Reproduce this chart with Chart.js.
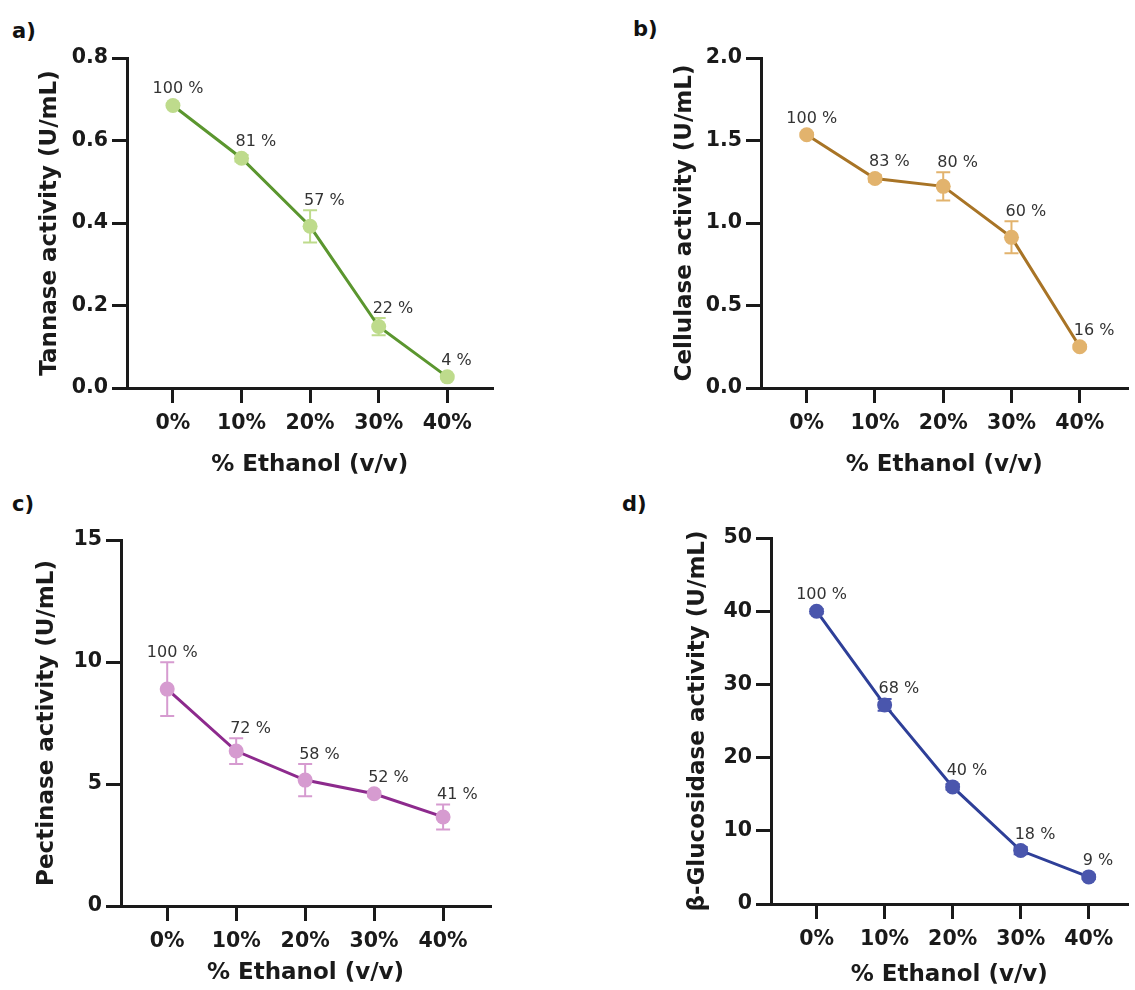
<!DOCTYPE html>
<html>
<head>
<meta charset="utf-8">
<script src="https://cdn.jsdelivr.net/npm/chart.js@4/dist/chart.umd.min.js"></script>
<style>
  body { margin: 0; background: #fff; width: 1135px; height: 990px; position: relative; overflow: hidden; }
  canvas { position: absolute; }
  .tag { position: absolute; font: bold 21px "DejaVu Sans", sans-serif; line-height: 21px; color: #111; }
</style>
</head>
<body>
<div class="tag" style="left:12px;top:21px">a)</div>
<div class="tag" style="left:633px;top:19px">b)</div>
<div class="tag" style="left:12px;top:494px">c)</div>
<div class="tag" style="left:622px;top:494px">d)</div>

<canvas id="chartA" style="left:0;top:0" width="500" height="495"></canvas>
<canvas id="chartB" style="left:600px;top:0" width="535" height="495"></canvas>
<canvas id="chartC" style="left:0;top:500px" width="500" height="490"></canvas>
<canvas id="chartD" style="left:600px;top:500px" width="535" height="490"></canvas>

<script>
// datos
const ethanol = ['0%', '10%', '20%', '30%', '40%']

const tannase = [0.685, 0.557, 0.392, 0.149, 0.027]
const tannaseErr = [0.004, 0.008, 0.039, 0.021, 0.004]
const tannasePct = [100, 81, 57, 22, 4]

const cellulase = [1.535, 1.27, 1.222, 0.913, 0.25]
const cellulaseErr = [0.01, 0.02, 0.085, 0.097, 0.01]
const cellulasePct = [100, 83, 80, 60, 16]

const pectinase = [8.89, 6.35, 5.16, 4.6, 3.65]
const pectinaseErr = [1.1, 0.53, 0.66, 0.1, 0.51]
const pectinasePct = [100, 72, 58, 52, 41]

const glucosidase = [40.0, 27.2, 16.0, 7.3, 3.7]
const glucosidaseErr = [0.3, 0.8, 0.4, 0.5, 0.3]
const glucosidasePct = [100, 68, 40, 18, 9]

const ink = '#1a1a1a'
const tickFont = { family: '"DejaVu Sans", sans-serif', size: 20.5, weight: 'bold' }
const titleFont = { family: '"DejaVu Sans", sans-serif', size: 23, weight: 'bold' }

// barras de error, debajo de la linea
const errorBars = {
  id: 'errorBars',
  beforeDatasetsDraw(chart) {
    const { ctx, scales: { x, y } } = chart
    const ds = chart.data.datasets[0]
    ctx.save()
    ctx.strokeStyle = ds.pointBackgroundColor
    ctx.lineWidth = 2
    ds.data.forEach((p, i) => {
      const px = x.getPixelForValue(p.x)
      const top = y.getPixelForValue(p.y + ds.err[i])
      const bot = y.getPixelForValue(p.y - ds.err[i])
      ctx.beginPath()
      ctx.moveTo(px, top); ctx.lineTo(px, bot)
      ctx.moveTo(px - 7, top); ctx.lineTo(px + 7, top)
      ctx.moveTo(px - 7, bot); ctx.lineTo(px + 7, bot)
      ctx.stroke()
    })
    ctx.restore()
  }
}

// etiquetas de porcentaje sobre cada punto
const pctLabels = {
  id: 'pctLabels',
  afterDatasetsDraw(chart) {
    const { ctx, scales: { x, y } } = chart
    const ds = chart.data.datasets[0]
    ctx.save()
    ctx.font = '16px "DejaVu Sans", sans-serif'
    ctx.fillStyle = '#333'
    ctx.textBaseline = 'alphabetic'
    ds.data.forEach((p, i) => {
      const px = x.getPixelForValue(p.x)
      const top = Math.min(y.getPixelForValue(p.y) - 7, y.getPixelForValue(p.y + ds.err[i]))
      ctx.textAlign = i === 0 ? 'center' : 'left'
      ctx.fillText(ds.pct[i] + ' %', i === 0 ? px + 5 : px - 6, top - 5)
    })
    ctx.restore()
  }
}

function makeChart(id, p) {
  return new Chart(document.getElementById(id), {
    type: 'line',
    data: {
      datasets: [{
        data: p.values.map((v, i) => ({ x: i, y: v })),
        err: p.err,
        pct: p.pct,
        borderColor: p.line,
        backgroundColor: p.dot,
        pointBackgroundColor: p.dot,
        pointBorderWidth: 0,
        pointRadius: 7.5,
        borderWidth: 3,
        tension: 0
      }]
    },
    options: {
      responsive: false,
      animation: false,
      devicePixelRatio: 1,
      layout: { padding: { top: p.top, right: p.right, left: 0, bottom: 0 } },
      plugins: { legend: { display: false }, tooltip: { enabled: false } },
      scales: {
        x: {
          type: 'linear',
          min: -0.67,
          max: p.xMax,
          afterBuildTicks: s => { s.ticks = ethanol.map((_, i) => ({ value: i })) },
          afterFit: s => { s.height = p.xH; s.paddingLeft = 0; s.paddingRight = 0 },
          ticks: { callback: v => ethanol[v], font: tickFont, color: ink, padding: 8, maxRotation: 0, autoSkip: false },
          grid: { drawOnChartArea: false, tickLength: 15, color: ink, lineWidth: 3 },
          border: { color: ink, width: 3 },
          title: { display: true, text: '% Ethanol (v/v)', font: titleFont, color: ink, padding: { top: 0, bottom: p.xPad } }
        },
        y: {
          min: 0,
          max: p.yMax,
          afterFit: s => { s.width = p.yW },
          ticks: { stepSize: p.step, callback: v => v.toFixed(p.dec), font: tickFont, color: ink, padding: 4 },
          grid: { drawOnChartArea: false, tickLength: 15, color: ink, lineWidth: 3 },
          border: { color: ink, width: 3 },
          title: { display: true, text: p.title, font: titleFont, color: ink, padding: { top: p.yPad, bottom: 0 } }
        }
      }
    },
    plugins: [errorBars, pctLabels]
  })
}

makeChart('chartA', {
  values: tannase, err: tannaseErr, pct: tannasePct,
  line: '#5b962f', dot: '#bedb8c',
  title: 'Tannase activity (U/mL)', yMax: 0.8, step: 0.2, dec: 1,
  top: 58, right: 5, yW: 127, xH: 107, xMax: 4.66, yPad: 36, xPad: 16
})

makeChart('chartB', {
  values: cellulase, err: cellulaseErr, pct: cellulasePct,
  line: '#a87426', dot: '#e2b36d',
  title: 'Cellulase activity (U/mL)', yMax: 2, step: 0.5, dec: 1,
  top: 58, right: 2, yW: 161, xH: 107, xMax: 4.70, yPad: 71, xPad: 16
})

makeChart('chartC', {
  values: pectinase, err: pectinaseErr, pct: pectinasePct,
  line: '#8d2a8d', dot: '#d69bd0',
  title: 'Pectinase activity (U/mL)', yMax: 15, step: 5, dec: 0,
  top: 40, right: 10, yW: 121, xH: 84, xMax: 4.68, yPad: 33, xPad: 3
})

makeChart('chartD', {
  values: glucosidase, err: glucosidaseErr, pct: glucosidasePct,
  line: '#2e3f98', dot: '#4a56ad',
  title: 'β-Glucosidase activity (U/mL)', yMax: 50, step: 10, dec: 0,
  top: 38, right: 0, yW: 171, xH: 86, xMax: 4.57, yPad: 84, xPad: 1
})
</script>
</body>
</html>
